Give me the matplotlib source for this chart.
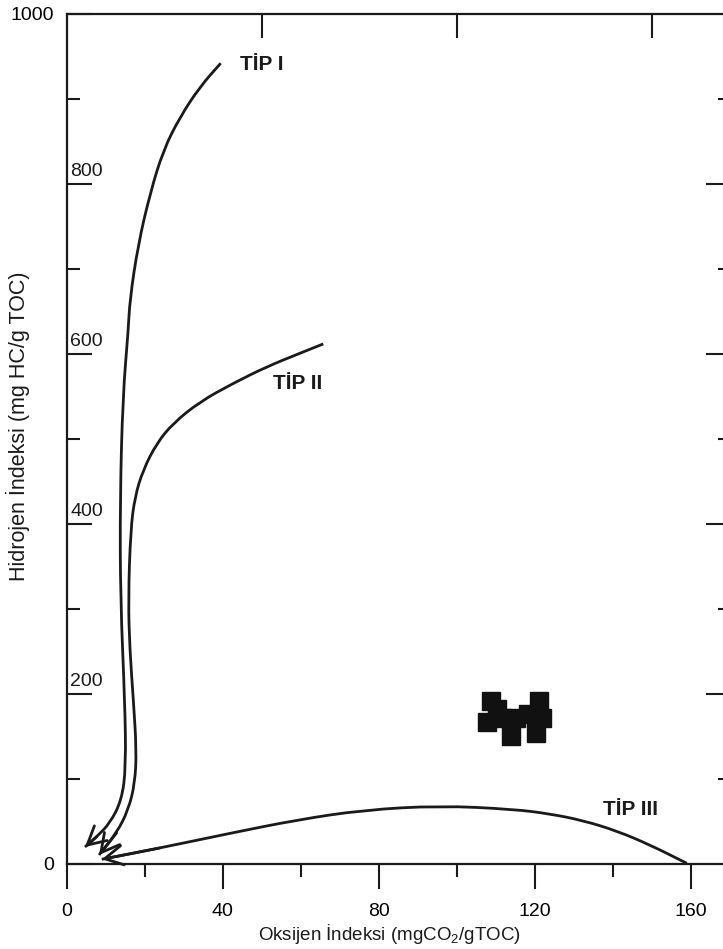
import matplotlib
matplotlib.use("Agg")
import matplotlib.pyplot as plt
from matplotlib.path import Path
from matplotlib.patches import PathPatch

plt.rcParams['font.family'] = ['Liberation Sans', 'DejaVu Sans']
plt.rcParams['mathtext.default'] = 'regular'

# kerogen type curves (OI, HI)
tip1_x = [39.5, 34.2, 29.1, 24.8, 21.4, 18.3, 16.2, 15.8, 14.4, 13.7, 13.8, 14.9, 15.2, 14.1, 11.1, 7.7, 4.7]
tip1_y = [942, 914.5, 879, 840, 789, 728, 663.5, 628, 550, 428, 310.6, 193, 114, 75, 48, 32, 20]

tip2_x = [65.8, 59.8, 51.3, 42.7, 34.2, 27.3, 23.1, 19.6, 17.5, 16.4, 15.8, 16.2, 17.1, 17.9, 17.5, 15.8, 12.8, 8.3]
tip2_y = [611.8, 600.8, 585, 565.5, 543.9, 518.5, 495, 463.5, 432, 393, 310.6, 251.8, 193, 134, 95, 63.5, 36.5, 10.6]

tip3_x = [159, 149.6, 141.0, 132.5, 123.9, 114.5, 95.7, 76.1, 59.0, 41.9, 23.9, 9.0]
tip3_y = [0.8, 22.4, 39, 51, 59, 64.4, 68.6, 63.5, 51.8, 36.1, 18.8, 5.5]

# samples
oi = [108.8, 110.3, 107.8, 111.5, 113.9, 115.1, 121.1, 121.9, 120.3, 118.3]
hi = [191.8, 182, 167.4, 172, 150.6, 172.1, 191.4, 172.1, 154.5, 176.5]

curve_names = ['TİP I', 'TİP II', 'TİP III']
name_pos = [(44.5, 941), (53, 565), (137.6, 63.5)]

x_ticks = [0, 40, 80, 120, 160]
x_minor = [20, 60, 100, 140]
y_ticks = [0, 200, 400, 600, 800, 1000]
y_ticklabels = ['0', '', '', '', '', '1000']
y_minor = [100, 300, 500, 700, 900]
y_inside = [200, 400, 600, 800]
top_ticks = [50, 100, 150]

col = '#1a1a1a'


def smooth_path(xs, ys):
    # quadratic bezier pieces through the midpoints, read points as controls
    pts = list(zip(xs, ys))
    verts = [pts[0]]
    codes = [Path.MOVETO]
    verts.append(((pts[0][0] + pts[1][0]) / 2, (pts[0][1] + pts[1][1]) / 2))
    codes.append(Path.LINETO)
    for i in range(1, len(pts) - 1):
        mid = ((pts[i][0] + pts[i + 1][0]) / 2, (pts[i][1] + pts[i + 1][1]) / 2)
        verts += [pts[i], mid]
        codes += [Path.CURVE3, Path.CURVE3]
    verts.append(pts[-1])
    codes.append(Path.LINETO)
    return Path(verts, codes)


fig = plt.figure(figsize=(7.23, 9.49), dpi=100)
ax = fig.add_axes([0.0922, 0.0896, 0.9116, 0.8957])
ax.set_xlim(0, 169)
ax.set_ylim(0, 1000)

for s in ax.spines.values():
    s.set_linewidth(1.6)
    s.set_color(col)

# curves with arrow heads
for cx, cy in [(tip1_x, tip1_y), (tip2_x, tip2_y), (tip3_x, tip3_y)]:
    ax.add_patch(PathPatch(smooth_path(cx, cy), fill=False, edgecolor=col, lw=2.0))
    ax.annotate('', xy=(cx[-1], cy[-1]), xytext=(cx[-2], cy[-2]),
                arrowprops=dict(arrowstyle='->, head_length=0.65, head_width=0.35',
                                color=col, lw=2.0, shrinkA=0, shrinkB=0,
                                mutation_scale=20))

for name, (tx, ty) in zip(curve_names, name_pos):
    ax.text(tx, ty, name, fontsize=15, fontweight='bold', color=col,
            ha='left', va='center')

ax.plot(oi, hi, 's', color='#111111', ms=13, mec='#111111')

# bottom axis
ax.set_xticks(x_ticks)
ax.set_xticks(x_minor, minor=True)
ax.tick_params(axis='x', which='major', direction='out', length=18, width=1.5,
               labelsize=14, pad=10, color=col)
ax.tick_params(axis='x', which='minor', direction='out', length=9, width=1.5, color=col)

# left axis
ax.set_yticks(y_ticks)
ax.set_yticklabels(y_ticklabels)
ax.set_yticks(y_minor, minor=True)
ax.tick_params(axis='y', which='major', direction='in', length=18, width=1.5,
               labelsize=14, pad=9, color=col)
ax.tick_params(axis='y', which='minor', direction='in', length=9.5, width=1.5, color=col)
for v in y_inside:
    ax.text(0.9, v + 5, str(v), fontsize=14, color=col, ha='left', va='bottom')

# right axis
sec = ax.secondary_yaxis('right')
sec.set_yticks(y_inside)
sec.set_yticks(y_minor, minor=True)
sec.tick_params(which='major', direction='in', length=14.5, width=1.5, labelright=False, color=col)
sec.tick_params(which='minor', direction='in', length=6, width=1.5, color=col)
sec.spines['right'].set_visible(False)

# top axis
top = ax.secondary_xaxis('top')
top.set_xticks(top_ticks)
top.tick_params(direction='in', length=17, width=1.5, labeltop=False, color=col)
top.spines['top'].set_visible(False)

ax.set_xlabel('Oksijen İndeksi (mgCO$_2$/gTOC)', fontsize=13.5, color=col)
ax.xaxis.set_label_coords(0.49, -0.068)
ax.set_ylabel('Hidrojen İndeksi (mg HC/g TOC)', fontsize=15.5, color=col)
ax.yaxis.set_label_coords(-0.056, 0.515)

fig.savefig('out.png', dpi=100, facecolor='white')
